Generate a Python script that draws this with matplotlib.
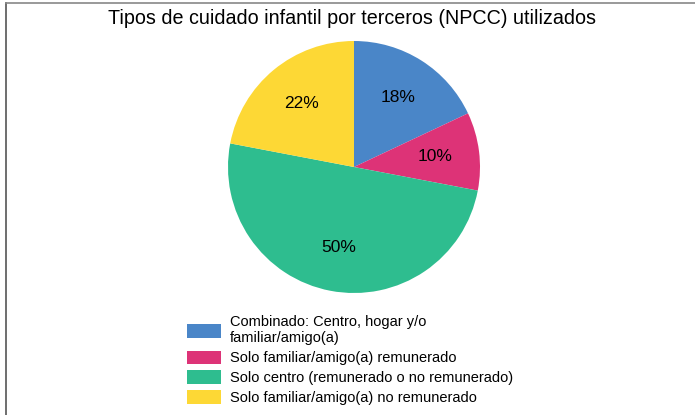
import matplotlib.pyplot as plt
from matplotlib.lines import Line2D

plt.rcParams['font.family'] = ['Liberation Sans', 'DejaVu Sans']

# Data
categories = ['Combinado: Centro, hogar y/o\nfamiliar/amigo(a)',
              'Solo familiar/amigo(a) remunerado',
              'Solo centro (remunerado o no remunerado)',
              'Solo familiar/amigo(a) no remunerado']
shares = [18, 10, 50, 22]
colors = ['#4A86C8', '#DD3377', '#2EBD8F', '#FDD835']

W, H = 695, 415
fig = plt.figure(figsize=(W / 100, H / 100), dpi=100)

# pie axes placed in pixel terms
cx, cy, r = 354, 167, 126
ax = fig.add_axes([(cx - r) / W, (H - cy - r) / H, 2 * r / W, 2 * r / H])
wedges, texts = ax.pie(shares, colors=colors, startangle=90, counterclock=False,
                       labels=[f'{v}%' for v in shares], labeldistance=0.65,
                       textprops={'fontsize': 12.5, 'ha': 'center', 'va': 'center'})
ax.set_xlim(-1, 1)
ax.set_ylim(-1, 1)
ax.set_aspect('equal')

fig.text(352 / W, 1 - 19 / H, 'Tipos de cuidado infantil por terceros (NPCC) utilizados',
         ha='center', va='center', fontsize=14.2)

leg = fig.legend(wedges, categories, loc='upper left', bbox_to_anchor=(180 / W, 1 - 308 / H),
                 frameon=False, fontsize=10.5, handlelength=2.3, handleheight=1.05,
                 handletextpad=0.65, labelspacing=0.35, borderpad=0)

# partial frame seen in the reference
fig.add_artist(Line2D([6 / W, 6 / W], [0, 1 - 3 / H], color='#555555', lw=1.2))
fig.add_artist(Line2D([6 / W, 1], [1 - 3 / H, 1 - 3 / H], color='#888888', lw=1.2))

fig.savefig('out.png', dpi=100)
